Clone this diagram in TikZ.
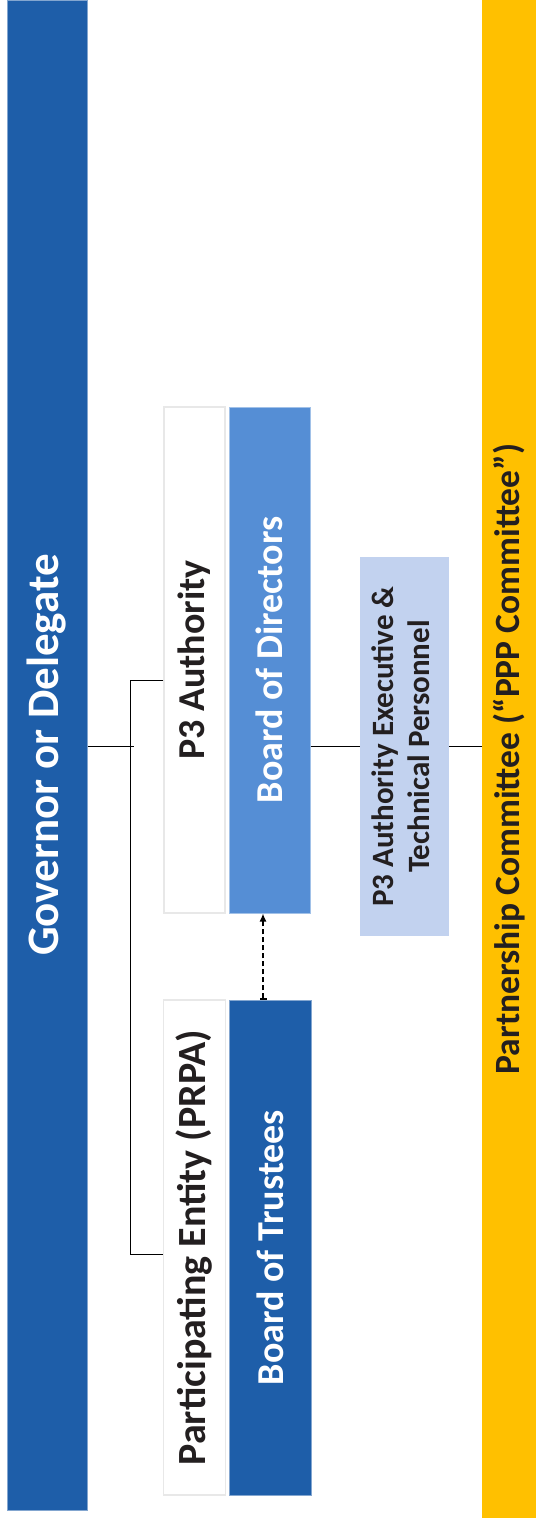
\documentclass[tikz,border=0pt]{standalone}
\usepackage{fontspec}
\setmainfont{Carlito}
\usetikzlibrary{arrows.meta}

\definecolor{govblue}{HTML}{1E5EA9}
\definecolor{dirblue}{HTML}{558ED5}
\definecolor{execblue}{HTML}{C2D2EF}
\definecolor{pppgold}{HTML}{FFC000}
\definecolor{boxgray}{HTML}{E8E8E8}
\definecolor{inkdark}{HTML}{231F20}

\tikzset{
  orgbox/.style={rectangle, inner sep=0pt, font=\bfseries, text=inkdark},
  whitebox/.style={orgbox, draw=boxgray, line width=1.5pt, fill=white},
  filledbox/.style={orgbox, draw=#1!55!white, line width=1pt, fill=#1},
  link/.style={draw=black, line width=1pt},
  assoc/.style={draw=black, line width=1.4pt, dash pattern=on 5pt off 3pt,
    {Bar[width=7pt]}-{Latex[length=8pt,width=7pt]}}
}

\begin{document}
\begin{tikzpicture}[x=1pt,y=-1pt]
  \useasboundingbox (0,0) rectangle (536,1518);

  % side bars
  \node[filledbox=govblue, text=white, minimum width=80pt, minimum height=1510pt]
    (gov) at (47,755) {\rotatebox{90}{\fontsize{45}{54}\selectfont Governor or Delegate}};
  \node[orgbox, fill=pppgold, minimum width=54pt, minimum height=1518pt]
    (ppp) at (509,759) {\rotatebox{90}{\fontsize{35.5}{42}\selectfont Partnership Committee (“PPP Committee”)}};

  % P3 authority column
  \node[whitebox, minimum width=61pt, minimum height=506pt]
    (p3) at (194.5,660) {\rotatebox{90}{\fontsize{38}{46}\selectfont P3 Authority}};
  \node[filledbox=dirblue, text=white, minimum width=81pt, minimum height=506pt]
    (dir) at (269.5,660) {\rotatebox{90}{\fontsize{38}{46}\selectfont Board of Directors}};

  % participating entity column
  \node[whitebox, minimum width=62pt, minimum height=495pt]
    (prpa) at (194.5,1247.5) {\rotatebox{90}{\fontsize{40}{48}\selectfont Participating Entity (PRPA)}};
  \node[filledbox=govblue, text=white, minimum width=82pt, minimum height=495pt]
    (trust) at (270,1247.5) {\rotatebox{90}{\fontsize{38}{46}\selectfont Board of Trustees}};

  % executive
  \node[orgbox, fill=execblue, minimum width=89pt, minimum height=379pt]
    (exec) at (404.5,746.5) {\rotatebox{90}{\fontsize{31}{36}\selectfont
      \begin{tabular}{@{}c@{}}P3 Authority Executive \&\\Technical Personnel\end{tabular}}};

  % connectors
  \coordinate (jtop) at (130,680);
  \coordinate (jbot) at (130,1254);
  \coordinate (dlink) at (263,0);
  \draw[link] (gov.east |- exec.west) -- ([xshift=4pt]jtop |- exec.west);
  \draw[link] (p3.west |- jtop) -- (jtop) -- (jbot) -- (prpa.west |- jbot);
  \draw[link] (dir.east |- exec.west) -- (exec.west);
  \draw[link] (exec.east) -- (ppp.west |- exec.east);
  \draw[assoc] (dlink |- trust.north) -- (dlink |- dir.south);
\end{tikzpicture}
\end{document}
